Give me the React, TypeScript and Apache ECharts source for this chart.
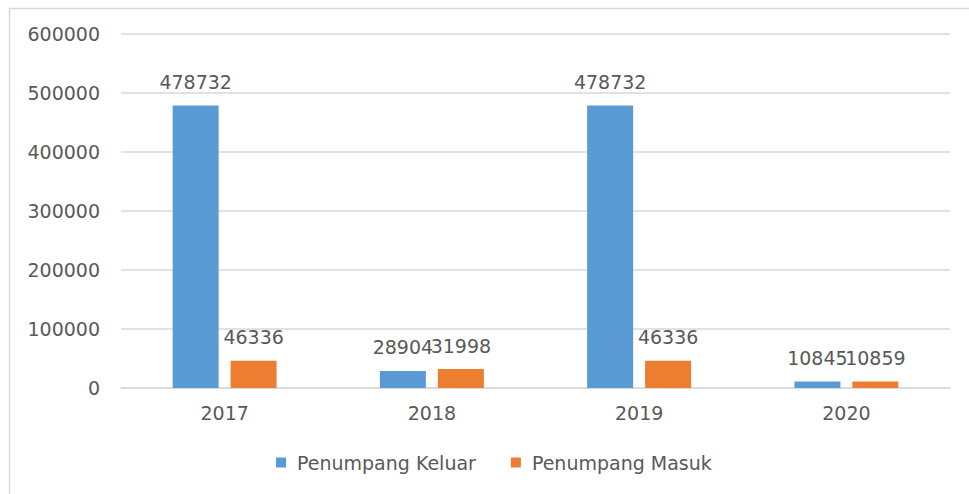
import React, { useEffect, useRef } from "react";
import * as echarts from "echarts";

const categories = ["2017", "2018", "2019", "2020"];
const keluar = [478732, 28904, 478732, 10845];
const masuk = [46336, 31998, 46336, 10859];
const seriesNames = ["Penumpang Keluar", "Penumpang Masuk"];

const FONT = "DejaVu Sans";
const TEXT = "#595959";
const FS = 19;

export default function App() {
  const ref = useRef<HTMLDivElement>(null);
  useEffect(() => {
    const chart = echarts.init(ref.current!, null, { renderer: "svg" });
    const label = {
      show: true,
      position: "top" as const,
      distance: 14,
      color: TEXT,
      fontFamily: FONT,
      fontSize: FS,
    };
    chart.setOption({
      animation: false,
      backgroundColor: "#ffffff",
      textStyle: { fontFamily: FONT },
      graphic: [
        {
          type: "rect",
          shape: { x: 9.5, y: 8.5, width: 1100, height: 1000 },
          style: { fill: "none", stroke: "#d9d9d9", lineWidth: 1.5 },
          silent: true,
        },
      ],
      grid: { left: 121, right: 19, top: 34, bottom: 106, containLabel: false },
      legend: {
        left: 276,
        top: 453,
        padding: 0,
        icon: "rect",
        itemWidth: 10,
        itemHeight: 10,
        itemGap: 35,
        textStyle: { color: TEXT, fontFamily: FONT, fontSize: FS, padding: [0, 0, 0, 6] },
        data: seriesNames,
      },
      xAxis: {
        type: "category",
        data: categories,
        axisLine: { lineStyle: { color: "#d9d9d9", width: 1.5 } },
        axisTick: { show: false },
        axisLabel: { color: TEXT, fontFamily: FONT, fontSize: FS, margin: 15 },
      },
      yAxis: {
        type: "value",
        min: 0,
        max: 600000,
        interval: 100000,
        axisLine: { show: false },
        axisTick: { show: false },
        axisLabel: {
          color: TEXT,
          fontFamily: FONT,
          fontSize: FS,
          margin: 21,
          formatter: (v: number) => String(v),
        },
        splitLine: { lineStyle: { color: "#d9d9d9", width: 1.5 } },
      },
      series: [
        {
          name: seriesNames[0],
          type: "bar",
          data: keluar,
          barWidth: 46,
          barGap: "26%",
          itemStyle: { color: "#5b9bd5" },
          label,
        },
        {
          name: seriesNames[1],
          type: "bar",
          data: masuk,
          barWidth: 46,
          barGap: "26%",
          itemStyle: { color: "#ed7d31" },
          label,
        },
      ],
    });
    return () => chart.dispose();
  }, []);
  return (
    <div
      ref={ref}
      style={{ position: "fixed", left: 0, top: 0, width: 969, height: 494 }}
    />
  );
}
